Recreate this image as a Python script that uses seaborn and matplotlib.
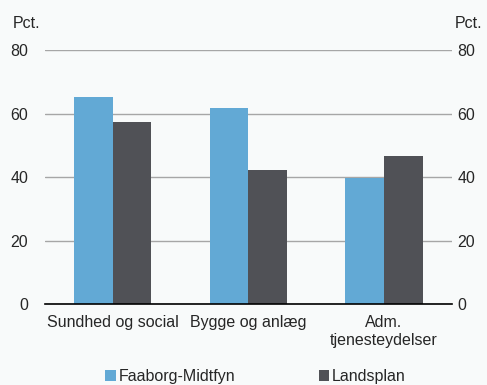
import pandas as pd
import numpy as np
import matplotlib.pyplot as plt
import seaborn as sns

kategorier = ["Sundhed og social", "Bygge og anlæg", "Adm.\ntjenesteydelser"]
faaborg = [65.2, 61.9, 39.6]
landsplan = [57.2, 42.3, 46.8]
serier = ["Faaborg-Midtfyn", "Landsplan"]
farver = ["#62a9d5", "#505156"]
yticks = [0, 20, 40, 60, 80]

df = pd.DataFrame({
    "kategori": kategorier * 2,
    "værdi": faaborg + landsplan,
    "serie": [serier[0]] * 3 + [serier[1]] * 3,
})

sns.set_style("white")
plt.rcParams["font.family"] = ["Liberation Sans", "DejaVu Sans"]
bg = "#f8fafa"
fs = 11.5

fig = plt.figure(figsize=(4.87, 3.85), dpi=100, facecolor=bg)
ax = fig.add_axes([0.092, 0.21, 0.836, 0.66], facecolor=bg)

sns.barplot(data=df, x="kategori", y="værdi", hue="serie", palette=farver,
            width=0.57, ax=ax, saturation=1, edgecolor="none", legend=True)

ax.set_ylim(0, 80)
ax.set_xlim(-0.5, 2.5)
ax.set_yticks(yticks)
ax.yaxis.grid(True, color="#a6a6a6", linewidth=1)
ax.set_axisbelow(True)
for s in ["left", "right", "top"]:
    ax.spines[s].set_visible(False)
ax.spines["bottom"].set_color("black")
ax.spines["bottom"].set_linewidth(1.2)

ax.tick_params(axis="y", length=0, labelsize=fs, pad=12)
ax.tick_params(axis="x", which="major", length=0, labelsize=fs, pad=8)
ax.set_xticks([-0.5, 0.5, 1.5, 2.5], minor=True)
ax.tick_params(axis="x", which="minor", length=5, width=1.2, color="black", direction="out")
ax.set_xlabel("")
ax.set_ylabel("")

# højre akse med samme skala
ax2 = ax.twinx()
ax2.set_ylim(ax.get_ylim())
ax2.set_yticks(yticks)
ax2.tick_params(axis="y", length=0, labelsize=fs, pad=4)
for s in ax2.spines.values():
    s.set_visible(False)
ax2.grid(False)

fig.text(0.027, 0.94, "Pct.", fontsize=fs, ha="left", va="center")
fig.text(0.933, 0.94, "Pct.", fontsize=fs, ha="left", va="center")

ax.legend(loc="center", bbox_to_anchor=(0.518, -0.285), ncol=2, frameon=False,
          fontsize=fs, handlelength=0.65, handleheight=0.65, handletextpad=0.2,
          columnspacing=5.2)

fig.savefig("out.png", dpi=100, facecolor=bg)
